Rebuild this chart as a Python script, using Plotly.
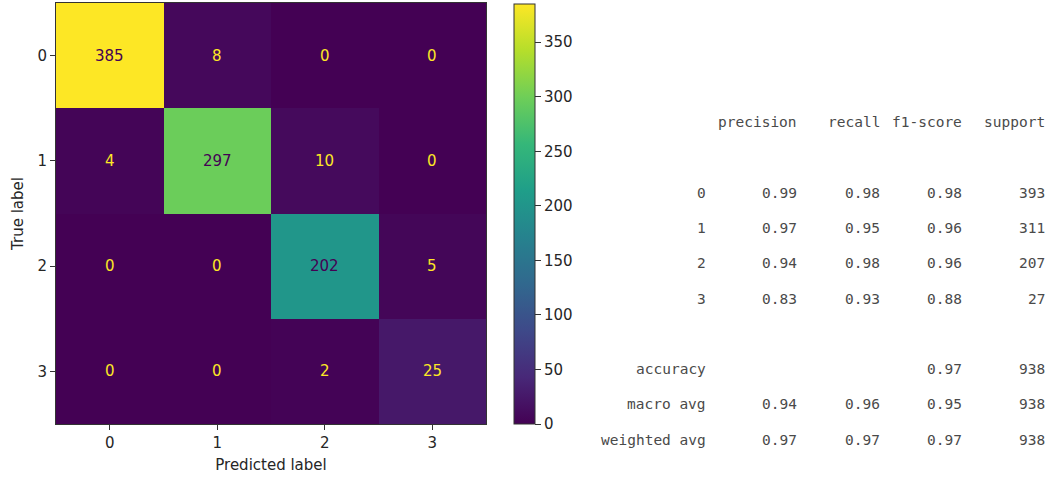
import plotly.graph_objects as go

# Confusion matrix (rows: true label, columns: predicted label)
classes = ["0", "1", "2", "3"]
cm = [
    [385, 8, 0, 0],
    [4, 297, 10, 0],
    [0, 0, 202, 5],
    [0, 0, 2, 25],
]

# Classification report values
report_headers = ["precision", "recall", "f1-score", "support"]
precision = [0.99, 0.97, 0.94, 0.83]
recall = [0.98, 0.95, 0.98, 0.93]
f1_score = [0.98, 0.96, 0.96, 0.88]
support = [393, 311, 207, 27]
accuracy = 0.97
total_support = 938
macro_avg = [0.94, 0.96, 0.95]
weighted_avg = [0.97, 0.97, 0.97]
cbar_ticks = [0, 50, 100, 150, 200, 250, 300, 350]

W, H = 1057, 480
px = lambda x: x / W
py = lambda y: 1 - y / H

zmin = 0
zmax = max(max(r) for r in cm)
n = len(classes)
idx = list(range(n))

fig = go.Figure()
fig.add_trace(go.Heatmap(
    z=cm, x=idx, y=idx,
    colorscale="Viridis", zmin=zmin, zmax=zmax,
    showscale=True,
    hoverinfo="skip",
    colorbar=dict(
        x=px(514), xanchor="left", xpad=0,
        y=py(4), yanchor="top", ypad=0,
        len=420, lenmode="pixels",
        thickness=21, thicknessmode="pixels",
        outlinewidth=1, outlinecolor="#333333",
        tickvals=cbar_ticks, ticks="outside", ticklen=6,
        tickcolor="#333333", tickwidth=1,
        tickfont=dict(family="DejaVu Sans", size=15, color="#262626"),
    ),
))

annotations = []
thresh = (zmax + zmin) / 2
for i in range(n):
    for j in range(n):
        v = cm[i][j]
        color = "#440154" if v > thresh else "#fde725"
        annotations.append(dict(
            x=j, y=i, xref="x", yref="y", text=str(v), showarrow=False,
            font=dict(family="DejaVu Sans", size=15, color=color),
        ))

# Classification report laid out as right-aligned monospace columns
mono = dict(family="DejaVu Sans Mono", size=14.5, color="#4a4a4a")
cw = 8.27
label_right = 708
col_right = [label_right + (11 + 10 * k) * cw for k in range(4)]
line0 = 122
dl = 35.3


def add_cell(text, xr, line):
    annotations.append(dict(
        x=px(xr), y=py(line0 + line * dl), xref="paper", yref="paper",
        xanchor="right", yanchor="middle", text=text, showarrow=False,
        font=mono,
    ))


for k, h in enumerate(report_headers):
    add_cell(h, col_right[k], 0)

for r, c in enumerate(classes):
    line = 2 + r
    add_cell(c, label_right, line)
    add_cell(f"{precision[r]:.2f}", col_right[0], line)
    add_cell(f"{recall[r]:.2f}", col_right[1], line)
    add_cell(f"{f1_score[r]:.2f}", col_right[2], line)
    add_cell(str(support[r]), col_right[3], line)

add_cell("accuracy", label_right, 7)
add_cell(f"{accuracy:.2f}", col_right[2], 7)
add_cell(str(total_support), col_right[3], 7)

for line, (name, vals) in enumerate([("macro avg", macro_avg), ("weighted avg", weighted_avg)], start=8):
    add_cell(name, label_right, line)
    for k, v in enumerate(vals):
        add_cell(f"{v:.2f}", col_right[k], line)
    add_cell(str(total_support), col_right[3], line)

axis_common = dict(
    tickvals=idx, ticktext=classes,
    ticks="outside", ticklen=5, tickwidth=1, tickcolor="#333333",
    showline=True, linecolor="#333333", linewidth=1, mirror=True,
    showgrid=False, zeroline=False, automargin=False,
    tickfont=dict(family="DejaVu Sans", size=15, color="#262626"),
)

fig.update_layout(
    width=W, height=H,
    margin=dict(l=0, r=0, t=0, b=0),
    paper_bgcolor="white", plot_bgcolor="white",
    xaxis=dict(
        domain=[px(56), px(486)], range=[-0.5, n - 0.5],
        title=dict(text="Predicted label", standoff=8,
                   font=dict(family="DejaVu Sans", size=15, color="#262626")),
        **axis_common,
    ),
    yaxis=dict(
        domain=[py(424), py(3)], range=[n - 0.5, -0.5],
        title=dict(text="True label", standoff=10,
                   font=dict(family="DejaVu Sans", size=15, color="#262626")),
        **axis_common,
    ),
    annotations=annotations,
)

fig.write_html("out.html")
